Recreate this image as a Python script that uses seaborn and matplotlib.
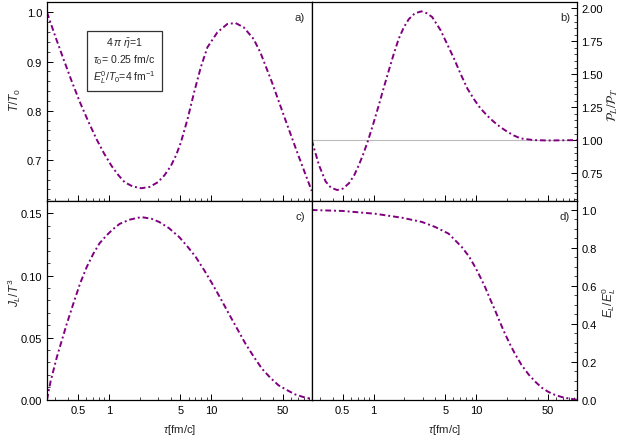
import numpy as np
import pandas as pd
import matplotlib
matplotlib.use("Agg")
import matplotlib.pyplot as plt
import seaborn as sns
from matplotlib.ticker import FixedLocator, NullFormatter, FixedFormatter, MultipleLocator

# ---------------- data ----------------
tau_a = [0.25, 0.30, 0.362, 0.435, 0.524, 0.632, 0.76, 0.90, 1.062, 1.24, 1.428, 1.71, 2.072,
         2.5, 3.005, 3.5, 4.04, 4.52, 5.05, 5.86, 6.79, 7.88, 9.15, 11.43, 14.28, 17.18,
         20.66, 25.8, 29.98, 38.9, 52.3, 70.4, 95.0]
T_ratio = [1.0, 0.952, 0.905, 0.860, 0.817, 0.778, 0.742, 0.713, 0.688, 0.669, 0.6545, 0.646,
           0.6423, 0.645, 0.6545, 0.669, 0.6882, 0.709, 0.7358, 0.7831, 0.8374, 0.8882, 0.9289,
           0.9593, 0.9762, 0.9783, 0.9695, 0.9457, 0.9187, 0.858, 0.783, 0.709, 0.637]

tau_b = [0.25, 0.294, 0.342, 0.386, 0.443, 0.504, 0.576, 0.65, 0.72, 0.80, 0.887, 1.0, 1.125,
         1.26, 1.41, 1.575, 1.76, 1.97, 2.20, 2.52, 2.92, 3.29, 3.71, 4.12, 4.5, 6.07, 7.06,
         8.18, 9.5, 11.0, 12.8, 14.8, 17.2, 20.0, 23.2, 26.9, 36.2, 50.0, 95.0]
P_ratio = [1.0, 0.811, 0.685, 0.638, 0.621, 0.632, 0.672, 0.735, 0.811, 0.90, 1.0, 1.13, 1.265,
           1.40, 1.530, 1.655, 1.770, 1.855, 1.917, 1.962, 1.977, 1.963, 1.935, 1.88, 1.833,
           1.619, 1.50, 1.392, 1.31, 1.240, 1.185, 1.139, 1.098, 1.064, 1.035, 1.013, 1.0,
           0.997, 1.0]

tau_c = [0.25, 0.27, 0.312, 0.39, 0.45, 0.524, 0.609, 0.706, 0.813, 0.95, 1.10, 1.28, 1.59,
         2.07, 2.6, 3.11, 3.86, 4.86, 5.86, 7.05, 8.5, 10.2, 12.3, 14.8, 17.8, 21.5, 25.8,
         31.1, 37.3, 45.1, 54.4, 65.3, 78.3, 95.0]
J_ratio = [0.0, 0.0142, 0.0344, 0.0612, 0.077, 0.0934, 0.1068, 0.1175, 0.126, 0.1323, 0.1374,
           0.1417, 0.145, 0.1471, 0.1458, 0.1431, 0.1382, 0.131, 0.1233, 0.1149, 0.1044, 0.0934,
           0.0815, 0.0692, 0.0573, 0.0451, 0.0348, 0.025, 0.0179, 0.0116, 0.0078, 0.0043,
           0.0022, 0.0005]

tau_d = [0.25, 0.496, 1.045, 1.90, 2.96, 4.0, 5.39, 7.25, 8.5, 9.78, 10.9, 12.2, 13.6, 15.3,
         17.1, 19.1, 21.4, 23.9, 27.6, 32.2, 37.5, 43.4, 50.0, 58.5, 68.0, 78.7, 95.0]
E_ratio = [1.0, 0.995, 0.980, 0.959, 0.937, 0.910, 0.875, 0.804, 0.755, 0.698, 0.648, 0.593,
           0.532, 0.469, 0.406, 0.346, 0.29, 0.240, 0.183, 0.134, 0.095, 0.0635, 0.042, 0.025,
           0.014, 0.007, 0.0]

x_major = [0.5, 1, 5, 10, 50]
x_major_labels = ["0.5", "1", "5", "10", "50"]
x_minor = [0.3, 0.4, 0.6, 0.7, 0.8, 0.9, 2, 3, 4, 6, 7, 8, 9, 20, 30, 40, 60, 70, 80, 90]

# ---------------- style ----------------
sns.set_style("ticks")
plt.rcParams.update({
    "font.family": ["Liberation Sans", "DejaVu Sans"],
    "mathtext.fontset": "custom",
    "mathtext.rm": "Liberation Sans",
    "mathtext.it": "Liberation Sans:italic",
    "mathtext.bf": "Liberation Sans:bold",
    "xtick.direction": "in",
    "ytick.direction": "in",
    "axes.linewidth": 0.9,
    "axes.edgecolor": "black",
})

purple = "#800080"
ls = (0, (3.0, 1.5, 1.0, 1.5))
lw = 1.4
fs = 7.6
tfs = 8.0

W, H = 623, 439
fig = plt.figure(figsize=(W / 100, H / 100), dpi=100)
L, M, R = 47 / W, 311.7 / W, 576.7 / W
top_b, top_t = 1 - 201.7 / H, 1 - 3 / H
bot_b = 1 - 400.7 / H
h_top = top_t - top_b
h_bot = top_b - bot_b

ax_a = fig.add_axes([L, top_b, M - L, h_top])
ax_b = fig.add_axes([M, top_b, R - M, h_top])
ax_c = fig.add_axes([L, bot_b, M - L, h_bot])
ax_d = fig.add_axes([M, bot_b, R - M, h_bot])

series = [
    (ax_a, tau_a, T_ratio), (ax_b, tau_b, P_ratio),
    (ax_c, tau_c, J_ratio), (ax_d, tau_d, E_ratio),
]
for ax, t, v in series:
    df = pd.DataFrame({"tau": t, "val": v})
    sns.lineplot(data=df, x="tau", y="val", ax=ax, color=purple, linestyle=ls, lw=lw)
    ax.set_xscale("log")
    ax.set_xlim(0.25, 95)
    ax.xaxis.set_major_locator(FixedLocator(x_major))
    ax.xaxis.set_major_formatter(FixedFormatter(x_major_labels))
    ax.xaxis.set_minor_locator(FixedLocator(x_minor))
    ax.xaxis.set_minor_formatter(NullFormatter())
    ax.tick_params(axis="both", which="major", length=4, width=0.7, labelsize=tfs, colors="black")
    ax.tick_params(axis="both", which="minor", length=2, width=0.6)
    ax.tick_params(axis="x", top=False, bottom=True)
    ax.set_xlabel("")
    ax.set_ylabel("")
    for sp in ax.spines.values():
        sp.set_visible(True)
        sp.set_color("black")
        sp.set_linewidth(0.9)

# panel b reference line
ax_b.axhline(1.0, color="#bbbbbb", lw=0.8, zorder=0)

# y limits and ticks
ax_a.set_ylim(0.617, 1.021)
ax_a.yaxis.set_major_locator(FixedLocator([0.7, 0.8, 0.9, 1.0]))
ax_a.yaxis.set_major_formatter(FixedFormatter(["0.7", "0.8", "0.9", "1.0"]))
ax_a.yaxis.set_minor_locator(MultipleLocator(0.02))

ax_b.set_ylim(0.54, 2.048)
ax_b.yaxis.set_major_locator(FixedLocator([0.75, 1.0, 1.25, 1.5, 1.75, 2.0]))
ax_b.yaxis.set_major_formatter(FixedFormatter(["0.75", "1.00", "1.25", "1.50", "1.75", "2.00"]))
ax_b.yaxis.set_minor_locator(MultipleLocator(0.05))

ax_c.set_ylim(0.0, 0.1603)
ax_c.yaxis.set_major_locator(FixedLocator([0.0, 0.05, 0.10, 0.15]))
ax_c.yaxis.set_major_formatter(FixedFormatter(["0.00", "0.05", "0.10", "0.15"]))
ax_c.yaxis.set_minor_locator(MultipleLocator(0.01))

ax_d.set_ylim(0.0, 1.049)
ax_d.yaxis.set_major_locator(FixedLocator([0.0, 0.2, 0.4, 0.6, 0.8, 1.0]))
ax_d.yaxis.set_major_formatter(FixedFormatter(["0.0", "0.2", "0.4", "0.6", "0.8", "1.0"]))
ax_d.yaxis.set_minor_locator(MultipleLocator(0.05))

for ax in (ax_a, ax_b):
    ax.tick_params(axis="x", labelbottom=False)
for ax in (ax_b, ax_d):
    ax.yaxis.tick_right()
    ax.tick_params(axis="y", which="both", left=False, right=True, labelright=True, labelleft=False)
for ax in (ax_a, ax_c):
    ax.tick_params(axis="y", which="both", right=False, left=True)

# axis labels placed at the reference positions (figure pixels)
def ftext(x, y, s, **kw):
    fig.text(x / W, 1 - y / H, s, ha="center", va="center", **kw)

ftext(15, 100, r"$T/T_0$", fontsize=fs + 1.0, rotation=90)
ftext(14, 293, r"$J_L/T^3$", fontsize=fs + 1.0, rotation=90)
ftext(613, 105, r"$\mathcal{P}_L/\mathcal{P}_T$", fontsize=fs + 1.6, rotation=90,
      math_fontfamily="stix")
ftext(609, 302, r"$E_L/E_L^0$", fontsize=fs + 1.0, rotation=90)
ftext((47 + 311.7) / 2, 430, r"$\tau$[fm/c]", fontsize=fs + 0.6)
ftext((311.7 + 576.7) / 2, 430, r"$\tau$[fm/c]", fontsize=fs + 0.6)

# panel letters
for ax, lab in ((ax_a, "a)"), (ax_b, "b)"), (ax_c, "c)"), (ax_d, "d)")):
    ax.text(0.975, 0.925, lab, transform=ax.transAxes, ha="right", va="center", fontsize=fs + 0.6)

# parameter box
ax_a.text(0.293, 0.705,
          "$4\\,\\pi\\ \\bar{\\eta}$=1\n$\\tau_0$= 0.25 fm/c\n$E_L^0/T_0$=4 fm$^{-1}$",
          transform=ax_a.transAxes, ha="center", va="center", fontsize=fs,
          linespacing=1.2,
          bbox=dict(boxstyle="square,pad=0.6", fc="white", ec="#333333", lw=0.9))

fig.savefig("out.png", dpi=100)
